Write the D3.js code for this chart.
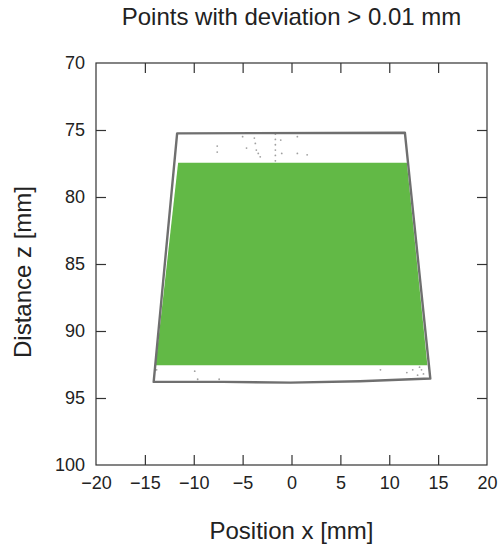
<!DOCTYPE html>
<html>
<head>
<meta charset="utf-8">
<script src="https://cdn.jsdelivr.net/npm/d3@7"></script>
<style>
  body { margin: 0; background: #fff; }
  text { font-family: "Liberation Sans", Arial, sans-serif; fill: #222; }
</style>
</head>
<body>
<div id="chart"></div>
<script>
// Size of the page
var width = 499;
var height = 547;
var margin = { top: 63, right: 12, bottom: 82, left: 96 };

// data
var xTicks = [-20, -15, -10, -5, 0, 5, 10, 15, 20];
var zTicks = [70, 75, 80, 85, 90, 95, 100];

// measuring field outline (x, z)
var outlineX = [-11.7, 11.6, 14.2, 7, -0.1, -7, -14.1];
var outlineZ = [75.25, 75.2, 93.55, 93.75, 93.85, 93.8, 93.8];

// region inside tolerance (green)
var fieldX = [-11.6, 11.8, 13.9, -13.9];
var fieldZ = [77.45, 77.45, 92.55, 92.55];

// scattered points with deviation > 0.01 mm
var devX = [-7.6, -7.6, -5.0, -4.6, -3.8, -3.7, -3.6, -3.4, -3.2, -1.65, -1.65, -1.65, -1.65, -1.65, -1.65, -1.1, -1.0, 0.6, 0.6, 1.6,
            -13.8, -9.9, -9.6, -7.4, 9.1, 11.8, 12.4, 12.9, 13.3, 13.5, 13.1];
var devZ = [76.2, 76.65, 75.5, 76.35, 75.6, 76.0, 76.5, 76.75, 77.0, 75.3, 75.7, 76.1, 76.5, 76.9, 77.3, 75.75, 76.75, 75.5, 76.75, 76.85,
            92.9, 93.0, 93.6, 93.6, 92.9, 93.1, 92.9, 93.3, 92.9, 93.2, 92.7];

var plotW = width - margin.left - margin.right;
var plotH = height - margin.top - margin.bottom;

var x = d3.scaleLinear().domain([-20, 20]).range([0, plotW]);
var y = d3.scaleLinear().domain([70, 100]).range([0, plotH]);

var svg = d3.select("#chart")
  .append("svg")
  .attr("width", width)
  .attr("height", height);

var g = svg.append("g")
  .attr("transform", "translate(" + margin.left + "," + margin.top + ")");

// green field
g.append("path")
  .datum(fieldX.map(function(d, i) { return [d, fieldZ[i]]; }))
  .attr("d", function(d) { return "M" + d.map(function(p) { return x(p[0]) + "," + y(p[1]); }).join("L") + "Z"; })
  .style("fill", "#62b946");

// deviation points
g.selectAll("circle.dev")
  .data(devX)
  .enter()
  .append("circle")
  .attr("class", "dev")
  .attr("cx", function(d) { return x(d); })
  .attr("cy", function(d, i) { return y(devZ[i]); })
  .attr("r", 0.9)
  .style("fill", "#777")
  .style("opacity", 0.7);

// outline of measuring range
var line = d3.line()
  .x(function(d) { return x(d[0]); })
  .y(function(d) { return y(d[1]); })
  .curve(d3.curveLinearClosed);

g.append("path")
  .datum(outlineX.map(function(d, i) { return [d, outlineZ[i]]; }))
  .attr("d", line)
  .style("fill", "none")
  .style("stroke", "#6f6f6f")
  .style("stroke-width", 2.4)
  .style("stroke-linejoin", "round");

// axes - ticks point inwards
var tickLen = 10;

g.append("g")
  .attr("transform", "translate(0," + plotH + ")")
  .call(d3.axisBottom(x).tickValues(xTicks).tickSizeInner(-tickLen).tickSizeOuter(0).tickPadding(11))
  .call(function(a) { a.selectAll(".tick").filter(function(d) { return d === -20 || d === 20; }).select("line").remove(); });

g.append("g")
  .call(d3.axisTop(x).tickValues(xTicks.slice(1, -1)).tickSizeInner(-tickLen).tickSizeOuter(0).tickFormat(""));

g.append("g")
  .call(d3.axisLeft(y).tickValues(zTicks).tickSizeInner(-tickLen).tickSizeOuter(0).tickPadding(11))
  .call(function(a) { a.selectAll(".tick").filter(function(d) { return d === 70 || d === 100; }).select("line").remove(); });

g.append("g")
  .attr("transform", "translate(" + plotW + ",0)")
  .call(d3.axisRight(y).tickValues(zTicks.slice(1, -1)).tickSizeInner(-tickLen).tickSizeOuter(0).tickFormat(""));

// frame
g.append("rect")
  .attr("width", plotW)
  .attr("height", plotH)
  .style("fill", "none")
  .style("stroke", "#333")
  .style("stroke-width", 1.2);

g.selectAll(".domain").remove();
g.selectAll(".tick line").style("stroke", "#333").style("stroke-width", 1.2);
g.selectAll(".tick text")
  .style("font-family", "'Liberation Sans', Arial, sans-serif")
  .style("font-size", "18px")
  .style("fill", "#222");

// titles
svg.append("text")
  .attr("x", margin.left + plotW / 2)
  .attr("y", 25)
  .attr("text-anchor", "middle")
  .style("font-size", "24px")
  .text("Points with deviation > 0.01 mm");

svg.append("text")
  .attr("x", margin.left + plotW / 2)
  .attr("y", 539)
  .attr("text-anchor", "middle")
  .style("font-size", "24px")
  .text("Position x [mm]");

svg.append("text")
  .attr("transform", "translate(31," + (margin.top + plotH / 2 + 8) + ") rotate(-90)")
  .attr("text-anchor", "middle")
  .style("font-size", "24px")
  .text("Distance z [mm]");
</script>
</body>
</html>
